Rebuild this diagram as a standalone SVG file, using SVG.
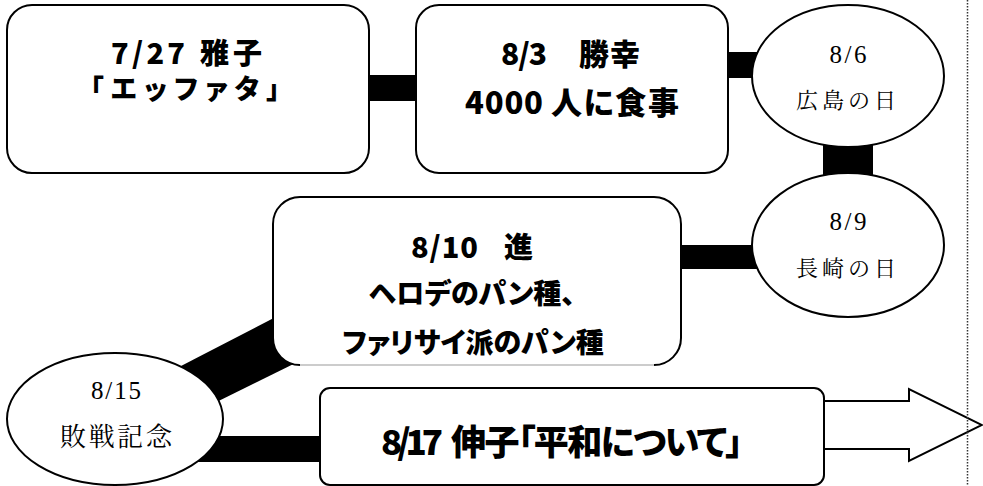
<svg xmlns="http://www.w3.org/2000/svg" width="983" height="486" viewBox="0 0 983 486">
<style>
.box{fill:#fff;stroke:#000;stroke-width:2}
.bar{fill:#000}
.g{font-family:"Noto Sans CJK JP",sans-serif;font-weight:900;fill:#000;font-feature-settings:"palt"}
.c{text-anchor:middle}
.m{font-family:"Liberation Serif","Noto Serif CJK JP","Noto Sans CJK JP",serif;text-anchor:middle;fill:#000}
</style>
<rect width="983" height="486" fill="#fff"/>
<g id="connectors">
<rect class="bar" x="367" y="75" width="51" height="26"/>
<rect class="bar" x="726" y="52" width="36" height="26"/>
<rect class="bar" x="823" y="140" width="50" height="40"/>
<rect class="bar" x="679" y="245" width="80" height="24"/>
<polygon class="bar" points="150,382 320,294 330,346 170,425"/>
<rect class="bar" x="150" y="436" width="172" height="26"/>
<path class="box" d="M824,401 H909 V389 L982,425 L909,461 V449 H824"/>
</g>
<g id="n727">
<rect class="box" x="7" y="5" width="362" height="168" rx="25"/>
<text class="g" x="111" y="64" font-size="29" textLength="74">7/27</text>
<text class="g" x="200" y="64" font-size="29" textLength="62">雅子</text>
<text class="g c" x="185" y="99" font-size="27" textLength="190">「エッファタ」</text>
</g>
<g id="n803">
<rect class="box" x="416" y="5" width="312" height="168" rx="23"/>
<text class="g" x="501" y="65" font-size="30" textLength="46">8/3</text>
<text class="g" x="579" y="65" font-size="30" textLength="61">勝幸</text>
<text class="g" x="465" y="114" font-size="31" textLength="78">4000</text>
<text class="g" x="551" y="114" font-size="31" textLength="128">人に食事</text>
</g>
<g id="n806">
<ellipse class="box" cx="848" cy="76" rx="96" ry="71"/>
<text class="m" x="848" y="63" font-size="25" textLength="37">8/6</text>
<text class="m" x="846" y="108" font-size="22" textLength="100">広島の日</text>
</g>
<g id="n809">
<ellipse class="box" cx="848" cy="245" rx="96" ry="72"/>
<text class="m" x="848" y="230" font-size="25" textLength="37">8/9</text>
<text class="m" x="846" y="276" font-size="22" textLength="100">長崎の日</text>
</g>
<g id="n810">
<path class="box" d="M300,365 A27,27 0 0 1 273,338 V224 A27,27 0 0 1 300,197 H654 A27,27 0 0 1 681,224 V338 A27,27 0 0 1 654,365"/>
<line x1="300" y1="365" x2="654" y2="365" stroke="#ccc" stroke-width="2"/>
<text class="g" x="411" y="258" font-size="29" textLength="67">8/10</text>
<text class="g" x="504" y="258" font-size="29">進</text>
<text class="g c" x="472" y="304" font-size="28">ヘロデのパン種、</text>
<text class="g c" x="473" y="353" font-size="28">ファリサイ派のパン種</text>
</g>
<g id="n815">
<ellipse class="box" cx="115" cy="419" rx="108" ry="66"/>
<text class="m" x="116" y="399" font-size="25" textLength="50">8/15</text>
<text class="m" x="116" y="446" font-size="26" textLength="112">敗戦記念</text>
</g>
<g id="n817">
<rect class="box" x="320" y="388" width="504" height="97" rx="10"/>
<text class="g" x="381" y="455" font-size="35" textLength="62">8/17</text>
<text class="g" x="451" y="455" font-size="35" textLength="292">伸子「平和について」</text>
</g>
<line x1="967.5" y1="0" x2="967.5" y2="486" stroke="#333" stroke-width="1.5" stroke-dasharray="1.5 1.5"/>
</svg>
